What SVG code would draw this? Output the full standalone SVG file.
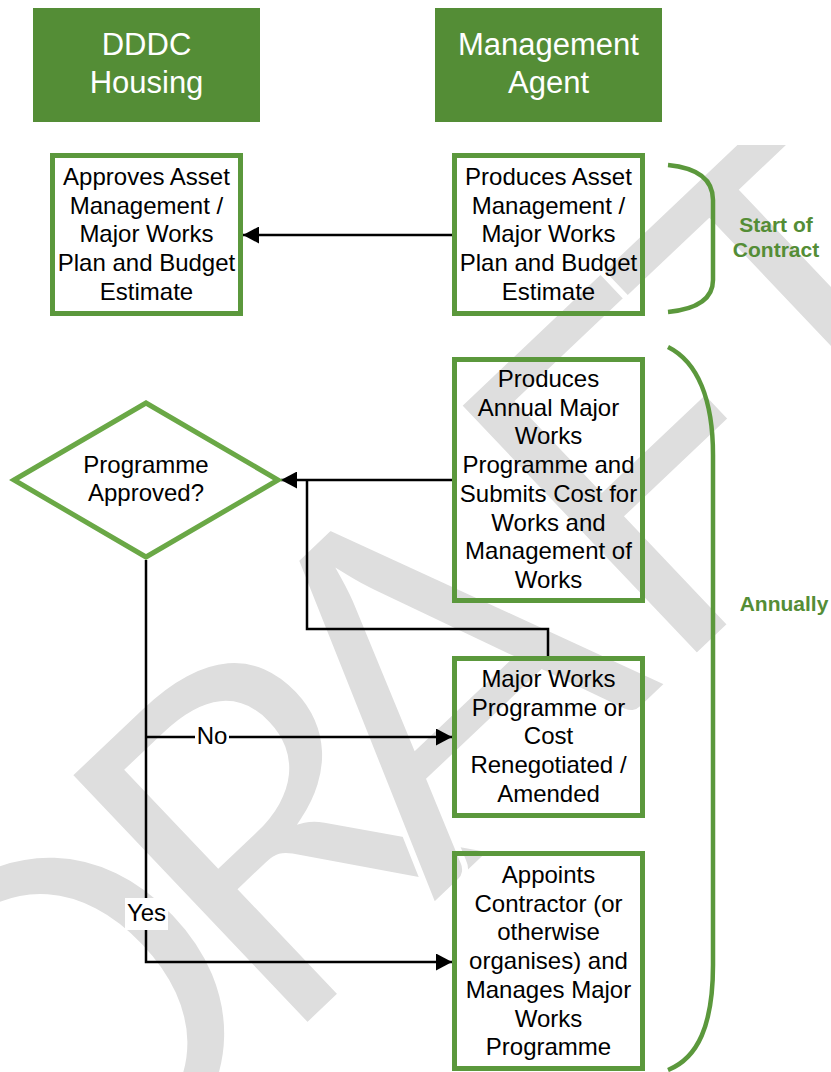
<svg xmlns="http://www.w3.org/2000/svg" width="831" height="1072" viewBox="0 0 831 1072">
<defs>
<style>
.wm{font-family:Lato,"Liberation Sans",sans-serif;font-size:483px;fill:#dedede;stroke:#ffffff;stroke-width:6px;text-anchor:middle}
.hdr{fill:#548d36}
.htxt{font-family:"Liberation Sans",Arial,sans-serif;font-size:31px;fill:#ffffff;text-anchor:middle}
.box{fill:none;stroke:#5b983c;stroke-width:5}
.dia{fill:none;stroke:#6aa846;stroke-width:5}
.t{font-family:"Liberation Sans",Arial,sans-serif;font-size:24px;fill:#000000;text-anchor:middle}
.lbl{font-family:"Liberation Sans",Arial,sans-serif;font-size:21px;font-weight:bold;fill:#548d36;text-anchor:middle}
.br{fill:none;stroke:#5b983c;stroke-width:4.5}
.c{fill:none;stroke:#000000;stroke-width:2.5}
</style>
<clipPath id="wmclip">
<rect x="0" y="145" width="831" height="927"/>
</clipPath>
<marker id="ah" markerUnits="userSpaceOnUse" markerWidth="17" markerHeight="17" refX="16" refY="8.5" orient="auto">
<path d="M0,0 L16,8.5 L0,17 z" fill="#000000"/>
</marker>
</defs>
<rect width="831" height="1072" fill="#ffffff"/>
<g id="watermark" clip-path="url(#wmclip)">
<g transform="translate(298,1035) rotate(-43.5)">
<text class="wm" x="-166 120 349 642 881" y="0">DRAFT</text>
</g>
</g>
<g id="hdr-dddc">
<rect class="hdr" x="33" y="8" width="227" height="114"/>
<text class="htxt" x="146.5" y="55">DDDC</text>
<text class="htxt" x="146.5" y="93">Housing</text>
</g>
<g id="hdr-agent">
<rect class="hdr" x="435" y="8" width="227" height="114"/>
<text class="htxt" x="548.5" y="55">Management</text>
<text class="htxt" x="548.5" y="93">Agent</text>
</g>
<g id="connectors">
<path class="c" d="M452,235 H243" marker-end="url(#ah)"/>
<path class="c" d="M452,480 H281" marker-end="url(#ah)"/>
<path class="c" d="M548,656 V629 H307 V480"/>
<path class="c" d="M146,560 V962 H452" marker-end="url(#ah)"/>
<path class="c" d="M146,737 H452" marker-end="url(#ah)"/>
<rect x="195" y="727" width="34" height="21" fill="#ffffff"/>
<text class="t" x="212" y="744">No</text>
<rect x="125" y="898" width="43" height="32" fill="#ffffff"/>
<text class="t" x="146.5" y="921">Yes</text>
</g>
<g id="n-approves">
<rect class="box" x="52.5" y="155.5" width="188" height="158"/>
<text class="t" x="146.5" y="185">Approves Asset</text>
<text class="t" x="146.5" y="213.7">Management /</text>
<text class="t" x="146.5" y="242.4">Major Works</text>
<text class="t" x="146.5" y="271.1">Plan and Budget</text>
<text class="t" x="146.5" y="299.8">Estimate</text>
</g>
<g id="n-produces-asset">
<rect class="box" x="454.5" y="155.5" width="188" height="158"/>
<text class="t" x="548.5" y="185">Produces Asset</text>
<text class="t" x="548.5" y="213.7">Management /</text>
<text class="t" x="548.5" y="242.4">Major Works</text>
<text class="t" x="548.5" y="271.1">Plan and Budget</text>
<text class="t" x="548.5" y="299.8">Estimate</text>
</g>
<g id="n-produces-annual">
<rect class="box" x="454.5" y="359.5" width="188" height="241"/>
<text class="t" x="548.5" y="387">Produces</text>
<text class="t" x="548.5" y="415.7">Annual Major</text>
<text class="t" x="548.5" y="444.4">Works</text>
<text class="t" x="548.5" y="473.1">Programme and</text>
<text class="t" x="548.5" y="501.8">Submits Cost for</text>
<text class="t" x="548.5" y="530.5">Works and</text>
<text class="t" x="548.5" y="559.2">Management of</text>
<text class="t" x="548.5" y="587.9">Works</text>
</g>
<g id="n-decision">
<polygon class="dia" points="14,480 146,403 278,480 146,557"/>
<text class="t" x="146" y="473">Programme</text>
<text class="t" x="146" y="501">Approved?</text>
</g>
<g id="n-renegotiated">
<rect class="box" x="454.5" y="658.5" width="188" height="157"/>
<text class="t" x="548.5" y="687">Major Works</text>
<text class="t" x="548.5" y="715.7">Programme or</text>
<text class="t" x="548.5" y="744.4">Cost</text>
<text class="t" x="548.5" y="773.1">Renegotiated /</text>
<text class="t" x="548.5" y="801.8">Amended</text>
</g>
<g id="n-appoints">
<rect class="box" x="454.5" y="853.5" width="188" height="215"/>
<text class="t" x="548.5" y="883">Appoints</text>
<text class="t" x="548.5" y="911.7">Contractor (or</text>
<text class="t" x="548.5" y="940.4">otherwise</text>
<text class="t" x="548.5" y="969.1">organises) and</text>
<text class="t" x="548.5" y="997.8">Manages Major</text>
<text class="t" x="548.5" y="1026.5">Works</text>
<text class="t" x="548.5" y="1055.2">Programme</text>
</g>
<g id="brace-start">
<path class="br" d="M668,165 C698,168 713,180 713,200 V280 C713,298 698,309 668,312"/>
<text class="lbl" x="776" y="232">Start of</text>
<text class="lbl" x="776" y="257">Contract</text>
</g>
<g id="brace-annual">
<path class="br" d="M668,347 C698,362 713,400 713,455 V965 C713,1025 698,1058 668,1070"/>
<text class="lbl" x="784" y="611">Annually</text>
</g>
</svg>
